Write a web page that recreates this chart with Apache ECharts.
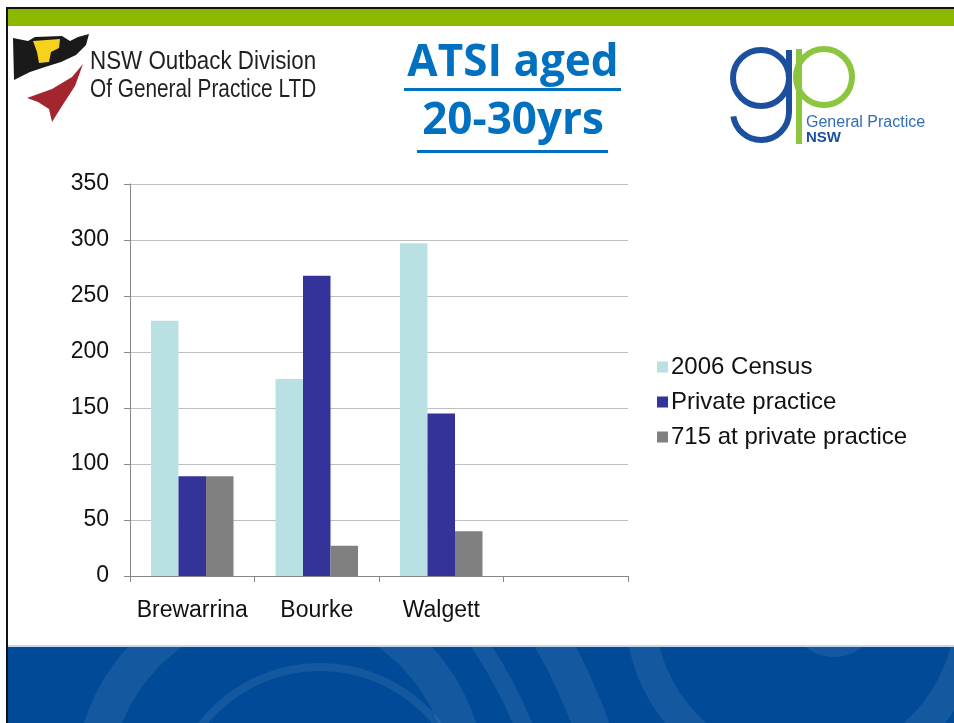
<!DOCTYPE html>
<html>
<head>
<meta charset="utf-8">
<title>ATSI aged 20-30yrs</title>
<script src="https://cdn.jsdelivr.net/npm/echarts@6/dist/echarts.min.js"></script>
<style>
  html, body { margin: 0; padding: 0; background: #fff; }
  #chart { width: 954px; height: 723px; }
</style>
</head>
<body>
<div id="chart"></div>
<script>
// data
const towns = ['Brewarrina', 'Bourke', 'Walgett', ''];
const census2006 = [228, 176, 297, null];
const privatePractice = [89, 268, 145, null];
const at715 = [89, 27, 40, null];
const yTicks = [0, 50, 100, 150, 200, 250, 300, 350];

const chart = echarts.init(document.getElementById('chart'));

// slide decoration: border, green bar, logos, blue footer
const ring = (cx, cy, r, w) => ({
  type: 'circle', z: 0,
  shape: { cx, cy, r },
  style: { fill: 'none', stroke: 'rgba(255,255,255,0.08)', lineWidth: w }
});

const decor = [
  // footer band + arcs, then white cover above it
  { type: 'rect', z: 0, shape: { x: 8, y: 647, width: 946, height: 76 }, style: { fill: '#004A98' } },
  ring(280, 786, 188, 36),
  ring(320, 817, 150, 8),
  ring(100, 900, 458, 18),
  ring(100, 900, 521, 36),
  ring(805, 610, 165, 30),
  ring(834, 612, 40, 10),
  { type: 'rect', z: 1, shape: { x: 0, y: 0, width: 954, height: 646 }, style: { fill: '#fff' } },
  { type: 'rect', z: 1, shape: { x: 8, y: 645, width: 946, height: 2 }, style: { fill: '#C9D6E8' } },

  // border + green bar
  { type: 'rect', z: 10, shape: { x: 6, y: 7, width: 948, height: 2 }, style: { fill: '#111' } },
  { type: 'rect', z: 10, shape: { x: 6, y: 7, width: 2, height: 716 }, style: { fill: '#111' } },
  { type: 'rect', z: 10, shape: { x: 8, y: 9, width: 946, height: 17 }, style: { fill: '#8CB800' } },

  // NSW Outback logo
  { type: 'polygon', z: 10, shape: { points: [[13,38],[28,41],[35,37],[62,36],[70,41],[78,37],[89,34],[86,45],[76,55],[61,62],[45,67],[30,72],[14,80]] }, style: { fill: '#1A1A1A' } },
  { type: 'polygon', z: 11, shape: { points: [[33,41],[60,39],[59,48],[51,52],[49,62],[39,63],[37,52]] }, style: { fill: '#F6D21E' } },
  { type: 'polygon', z: 10, shape: { points: [[83,64],[72,77],[52,89],[27,98],[38,102],[49,109],[52,122],[62,106],[75,86]] }, style: { fill: '#A3262E' } },
  { type: 'text', z: 10, x: 90, y: 49, scaleX: 0.86, style: { text: 'NSW Outback Division', font: '26px "Liberation Sans", sans-serif', fill: '#231F20' } },
  { type: 'text', z: 10, x: 90, y: 77, scaleX: 0.8, style: { text: 'Of General Practice LTD', font: '26px "Liberation Sans", sans-serif', fill: '#231F20' } },

  // title
  { type: 'text', z: 10, x: 513, y: 41, style: { text: 'ATSI aged', font: 'bold 44px "Open Sans", sans-serif', fill: '#0070C0', align: 'center' } },
  { type: 'rect', z: 10, shape: { x: 404, y: 88, width: 217, height: 3 }, style: { fill: '#0070C0' } },
  { type: 'text', z: 10, x: 513, y: 99, style: { text: '20-30yrs', font: 'bold 44px "Open Sans", sans-serif', fill: '#0070C0', align: 'center' } },
  { type: 'rect', z: 10, shape: { x: 417, y: 150, width: 191, height: 3 }, style: { fill: '#0070C0' } },

  // gp logo
  { type: 'circle', z: 10, shape: { cx: 761, cy: 78, r: 28 }, style: { fill: 'none', stroke: '#1D4F9F', lineWidth: 6 } },
  { type: 'line', z: 10, shape: { x1: 789, y1: 50, x2: 789, y2: 112 }, style: { stroke: '#1D4F9F', lineWidth: 6 } },
  { type: 'arc', z: 10, shape: { cx: 761, cy: 112, r: 28, startAngle: 0, endAngle: Math.PI * 0.95 }, style: { fill: 'none', stroke: '#1D4F9F', lineWidth: 6 } },
  { type: 'circle', z: 10, shape: { cx: 824, cy: 77, r: 28 }, style: { fill: 'none', stroke: '#8CC63F', lineWidth: 6 } },
  { type: 'line', z: 10, shape: { x1: 799, y1: 49, x2: 799, y2: 144 }, style: { stroke: '#8CC63F', lineWidth: 6 } },
  { type: 'text', z: 10, x: 806, y: 115, style: { text: 'General Practice', font: '16px "Liberation Sans", sans-serif', fill: '#2F6DB5' } },
  { type: 'text', z: 10, x: 806, y: 130, style: { text: 'NSW', font: 'bold 15px "Liberation Sans", sans-serif', fill: '#1D4F9F' } }
];

const barStyle = { barWidth: 27.5, barGap: '0%' };

chart.setOption({
  animation: false,
  backgroundColor: '#fff',
  textStyle: { fontFamily: '"Liberation Sans", Arial, sans-serif' },
  graphic: decor,
  grid: { left: 130, right: 326, top: 184, bottom: 147, containLabel: false },
  legend: {
    orient: 'vertical',
    left: 652,
    top: 350,
    z: 12,
    itemWidth: 11,
    itemHeight: 11,
    itemGap: 11,
    icon: 'rect',
    textStyle: { fontSize: 24, color: '#111', padding: [0, 0, 0, -2] },
    data: ['2006 Census', 'Private practice', '715 at private practice']
  },
  xAxis: {
    type: 'category',
    data: towns,
    z: 5,
    axisLine: { lineStyle: { color: '#868686', width: 1 } },
    axisTick: { show: true, interval: 0, length: 6, lineStyle: { color: '#868686' } },
    axisLabel: { interval: 0, fontSize: 23, color: '#111', margin: 23 }
  },
  yAxis: {
    type: 'value',
    min: yTicks[0],
    max: yTicks[yTicks.length - 1],
    interval: 50,
    z: 5,
    axisLine: { show: true, lineStyle: { color: '#868686' } },
    axisTick: { show: true, length: 6, lineStyle: { color: '#868686' } },
    axisLabel: { fontSize: 23, color: '#111', margin: 21 },
    splitLine: { lineStyle: { color: '#BFBFBF' } }
  },
  series: [
    { name: '2006 Census', type: 'bar', z: 6, data: census2006, itemStyle: { color: '#B9E0E3' }, ...barStyle },
    { name: 'Private practice', type: 'bar', z: 6, data: privatePractice, itemStyle: { color: '#333399' }, ...barStyle },
    { name: '715 at private practice', type: 'bar', z: 6, data: at715, itemStyle: { color: '#808080' }, ...barStyle }
  ]
});
</script>
</body>
</html>
